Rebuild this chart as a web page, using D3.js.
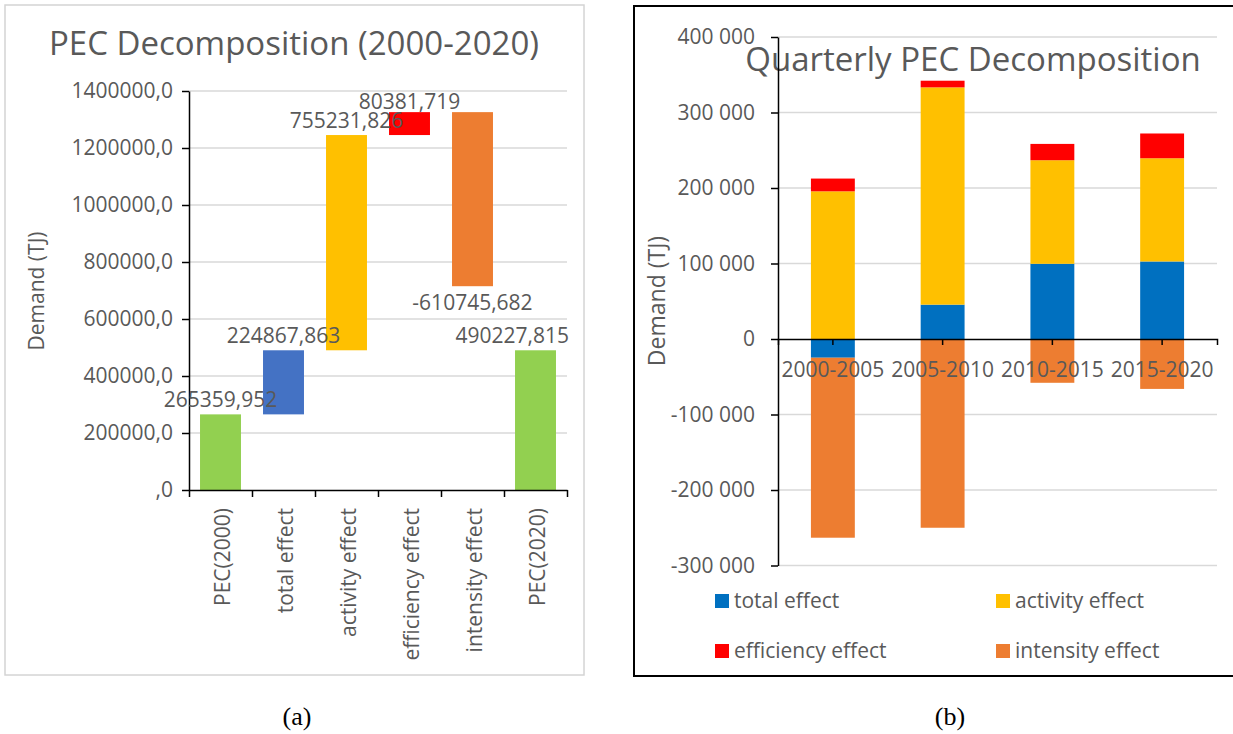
<!DOCTYPE html>
<html>
<head>
<meta charset="utf-8">
<script src="https://cdn.jsdelivr.net/npm/d3@7"></script>
<style>
    body { margin: 0; background: #fff; }
    text { font-family: "Open Sans", sans-serif; fill: #595959; }
</style>
</head>
<body>
<div id="chart"></div>
<script>
// left panel: waterfall
const leftCategories = ["PEC(2000)", "total effect", "activity effect", "efficiency effect", "intensity effect", "PEC(2020)"];
const leftStart = [0, 265359.952, 490227.815, 1245459.641, 1325841.360, 0];
const leftValues = [265359.952, 224867.863, 755231.826, 80381.719, -610745.682, 490227.815];
const leftColors = ["#92D050", "#4472C4", "#FFC000", "#FF0000", "#ED7D31", "#92D050"];
const leftTicks = [0, 200000, 400000, 600000, 800000, 1000000, 1200000, 1400000];

// right panel: stacked bars
const periods = ["2000-2005", "2005-2010", "2010-2015", "2015-2020"];
const seriesNames = ["total effect", "activity effect", "efficiency effect", "intensity effect"];
const totalEffect = [-24800, 45500, 99600, 102700];
const activityEffect = [195600, 287800, 137200, 136700];
const efficiencyEffect = [16900, 8800, 21600, 32800];
const intensityEffect = [-238400, -250000, -58000, -66100];
const rightColors = ["#0070C0", "#FFC000", "#FF0000", "#ED7D31"];
const rightTicks = [-300000, -200000, -100000, 0, 100000, 200000, 300000, 400000];

const svg = d3.select("#chart")
    .append("svg")
    .attr("width", 1233)
    .attr("height", 734);

svg.append("rect").attr("width", 1233).attr("height", 734).attr("fill", "#fff");

const commaLocale = d3.formatLocale({ decimal: ",", thousands: "\u00a0", grouping: [3], currency: ["", ""], minus: "-" });
const labelFormat = commaLocale.format(".3f");
const rightTickFormat = commaLocale.format(",d");
const leftTickFormat = v => v === 0 ? ",0" : d3.format("d")(v) + ",0";

// ---------- panel (a) ----------
svg.append("rect")
    .attr("x", 5).attr("y", 5).attr("width", 579).attr("height", 670)
    .attr("fill", "none").attr("stroke", "#d4d4d4").attr("stroke-width", 1.5);

svg.append("text")
    .attr("x", 294).attr("y", 55)
    .attr("text-anchor", "middle")
    .style("font-size", "33px")
    .text("PEC Decomposition (2000-2020)");

const xL = d3.scaleBand().domain(leftCategories).range([189, 567]).paddingInner(0.35).paddingOuter(0.175);
const yL = d3.scaleLinear().domain([0, 1400000]).range([490, 91]);

svg.append("g")
    .selectAll("line")
    .data(leftTicks.filter(t => t > 0))
    .join("line")
    .attr("x1", 189).attr("x2", 567)
    .attr("y1", d => yL(d)).attr("y2", d => yL(d))
    .attr("stroke", "#d9d9d9").attr("stroke-width", 1.5);

svg.append("g")
    .selectAll("rect")
    .data(leftCategories)
    .join("rect")
    .attr("x", d => xL(d))
    .attr("width", xL.bandwidth())
    .attr("y", (d, i) => yL(Math.max(leftStart[i], leftStart[i] + leftValues[i])))
    .attr("height", (d, i) => Math.abs(yL(leftStart[i]) - yL(leftStart[i] + leftValues[i])))
    .attr("fill", (d, i) => leftColors[i]);

const yAxisL = svg.append("g")
    .attr("transform", "translate(189,0)")
    .call(d3.axisLeft(yL).tickValues(leftTicks).tickFormat(leftTickFormat).tickSize(7).tickPadding(9).tickSizeOuter(0));
yAxisL.selectAll("text").style("font-size", "21px").attr("fill", "#595959");

const xAxisL = svg.append("g")
    .attr("transform", "translate(0,490)")
    .call(d3.axisBottom(d3.scaleLinear().domain([0, leftCategories.length]).range([189, 567]))
        .ticks(leftCategories.length).tickFormat("").tickSize(7).tickSizeOuter(0));

[yAxisL, xAxisL].forEach(a => {
    a.select(".domain").attr("stroke", "#000").attr("stroke-width", 1.5);
    a.selectAll(".tick line").attr("stroke", "#000").attr("stroke-width", 1.5);
});

svg.append("g")
    .selectAll("text")
    .data(leftCategories)
    .join("text")
    .attr("transform", d => `translate(${xL(d) + xL.bandwidth() / 2 + 2},508) rotate(-90)`)
    .attr("dy", "0.35em")
    .attr("text-anchor", "end")
    .style("font-size", "21px")
    .text(d => d);

svg.append("g")
    .selectAll("text")
    .data(leftValues)
    .join("text")
    .attr("text-anchor", "middle")
    .style("font-size", "21px")
    .text(d => labelFormat(d))
    .each(function (d, i) {
        const top = Math.max(leftStart[i], leftStart[i] + d);
        const bottom = Math.min(leftStart[i], leftStart[i] + d);
        const w = this.getComputedTextLength();
        const cx = Math.min(xL(leftCategories[i]) + xL.bandwidth() / 2, 569 - w / 2);
        const yPos = d < 0 ? yL(bottom) + 24 : Math.max(yL(top) - 7, yL(1400000) + 18);
        d3.select(this).attr("x", cx).attr("y", yPos);
    });

svg.append("text")
    .attr("transform", "translate(37,291) rotate(-90)")
    .attr("dy", "0.35em")
    .attr("text-anchor", "middle")
    .style("font-size", "21px")
    .text("Demand (TJ)");

// ---------- panel (b) ----------
svg.append("rect")
    .attr("x", 634).attr("y", 6).attr("width", 620).attr("height", 670)
    .attr("fill", "none").attr("stroke", "#000").attr("stroke-width", 2);

const xR = d3.scaleBand().domain(periods).range([778, 1217]).paddingInner(0.6).paddingOuter(0.3);
const yR = d3.scaleLinear().domain([-300000, 400000]).range([565.5, 37]);

svg.append("g")
    .selectAll("line")
    .data(rightTicks.filter(t => t !== 0))
    .join("line")
    .attr("x1", 778).attr("x2", 1217)
    .attr("y1", d => yR(d)).attr("y2", d => yR(d))
    .attr("stroke", "#d9d9d9").attr("stroke-width", 1.5);

const rows = periods.map((p, i) => ({
    period: p,
    "total effect": totalEffect[i],
    "activity effect": activityEffect[i],
    "efficiency effect": efficiencyEffect[i],
    "intensity effect": intensityEffect[i]
}));

const stacked = d3.stack().keys(seriesNames).offset(d3.stackOffsetDiverging)(rows);

svg.append("g")
    .selectAll("g")
    .data(stacked)
    .join("g")
    .attr("fill", (d, i) => rightColors[i])
    .selectAll("rect")
    .data(d => d)
    .join("rect")
    .attr("x", d => xR(d.data.period))
    .attr("width", xR.bandwidth())
    .attr("y", d => yR(Math.max(d[0], d[1])))
    .attr("height", d => Math.abs(yR(d[0]) - yR(d[1])));

svg.append("text")
    .attr("x", 973).attr("y", 71)
    .attr("text-anchor", "middle")
    .style("font-size", "33px")
    .text("Quarterly PEC Decomposition");

const yAxisR = svg.append("g")
    .attr("transform", "translate(778,0)")
    .call(d3.axisLeft(yR).tickValues(rightTicks).tickFormat(rightTickFormat).tickSize(7).tickPadding(16).tickSizeOuter(0));
yAxisR.selectAll("text").style("font-size", "21px").attr("fill", "#595959");

const xAxisR = svg.append("g")
    .attr("transform", `translate(0,${yR(0)})`)
    .call(d3.axisBottom(xR).tickSize(6).tickPadding(17).tickSizeOuter(6));
xAxisR.selectAll("text").style("font-size", "21px").attr("fill", "#595959");

[yAxisR, xAxisR].forEach(a => {
    a.select(".domain").attr("stroke", "#000").attr("stroke-width", 1.5);
    a.selectAll(".tick line").attr("stroke", "#000").attr("stroke-width", 1.5);
});

svg.append("text")
    .attr("transform", "translate(657,301) rotate(-90)")
    .attr("dy", "0.35em")
    .attr("text-anchor", "middle")
    .style("font-size", "23px")
    .text("Demand (TJ)");

const legend = svg.append("g")
    .selectAll("g")
    .data(seriesNames)
    .join("g")
    .attr("transform", (d, i) => `translate(${i % 2 === 0 ? 715 : 996},${i < 2 ? 601 : 651})`);

legend.append("rect")
    .attr("x", 0).attr("y", -7).attr("width", 14).attr("height", 14)
    .attr("fill", (d, i) => rightColors[i]);

legend.append("text")
    .attr("x", 19)
    .attr("dy", "0.35em")
    .style("font-size", "21px")
    .text(d => d);

// captions
svg.append("g")
    .selectAll("text")
    .data(["(a)", "(b)"])
    .join("text")
    .attr("x", (d, i) => i === 0 ? 297 : 950)
    .attr("y", 725)
    .attr("text-anchor", "middle")
    .style("font-family", "'Liberation Serif', serif")
    .style("font-size", "26px")
    .style("fill", "#000")
    .text(d => d);
</script>
</body>
</html>
